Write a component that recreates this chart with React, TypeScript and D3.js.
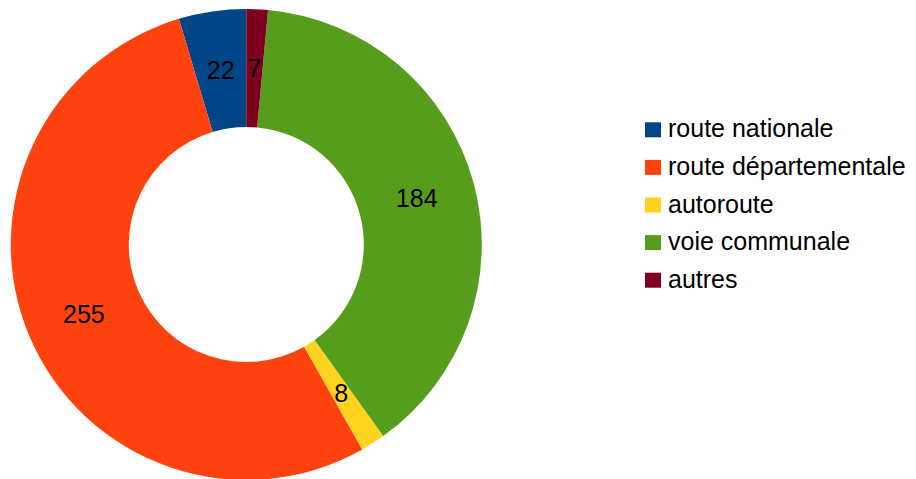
import React, { useEffect, useRef } from 'react';
import * as d3 from 'd3';

// chart data
const categories: string[] = ["route nationale", "route départementale", "autoroute", "voie communale", "autres"];
const values: number[] = [22, 255, 8, 184, 7];
const colors: string[] = ["#004586", "#ff420e", "#ffd320", "#579d1c", "#7e0021"];

const App = () => {
  const svgRef = useRef<SVGSVGElement | null>(null);

  useEffect(() => {
    document.body.style.margin = "0";
    drawChart();
    // cleanup so the chart isn't drawn twice
    return () => {
      d3.select(svgRef.current).selectAll("*").remove();
    };
  }, []);

  const drawChart = () => {
    const width = 916;
    const height = 479;
    const cx = 246.3;
    const cy = 244.5;
    const outerR = 235.5;
    const innerR = 117.5;
    const fontSize = 25;

    const svg = d3.select(svgRef.current)
      .attr("width", width)
      .attr("height", height);

    svg.append("rect")
      .attr("width", width)
      .attr("height", height)
      .attr("fill", "white");

    const idx = d3.range(categories.length);

    // LibreOffice draws slices counterclockwise starting at 12 o'clock
    const pie = d3.pie<number>()
      .value(i => values[i])
      .sort(null)
      .startAngle(0)
      .endAngle(-2 * Math.PI);

    const arc = d3.arc<d3.PieArcDatum<number>>()
      .innerRadius(innerR)
      .outerRadius(outerR);

    const mainG = svg.append("g")
      .attr("transform", `translate(${cx},${cy})`);

    const slices = pie(idx);

    mainG.selectAll(".slice")
      .data(slices)
      .enter().append("path")
      .attr("class", "slice")
      .attr("d", arc)
      .attr("fill", d => colors[d.data]);

    // value labels at the centroid of each slice
    mainG.selectAll(".label")
      .data(slices)
      .enter().append("text")
      .attr("class", "label")
      .attr("transform", d => `translate(${arc.centroid(d)})`)
      .attr("text-anchor", "middle")
      .attr("dy", "0.36em")
      .attr("font-family", "'Liberation Sans', Arial, sans-serif")
      .attr("font-size", fontSize)
      .attr("fill", "black")
      .text(d => values[d.data]);

    // legend
    const legendY = d3.scalePoint<number>()
      .domain(idx)
      .range([137.3, 137.3 + 37.6 * (categories.length - 1)]);

    const legend = svg.selectAll(".legend")
      .data(idx)
      .enter().append("g")
      .attr("class", "legend")
      .attr("transform", i => `translate(0,${legendY(i)})`);

    legend.append("rect")
      .attr("x", 645)
      .attr("y", -15)
      .attr("width", 16)
      .attr("height", 15)
      .attr("fill", i => colors[i]);

    legend.append("text")
      .attr("x", 668)
      .attr("y", 0)
      .attr("font-family", "'Liberation Sans', Arial, sans-serif")
      .attr("font-size", fontSize)
      .attr("fill", "black")
      .text(i => categories[i]);
  };

  return (
    <div>
      <svg ref={svgRef} style={{ display: "block" }}></svg>
    </div>
  );
};

export default App;
